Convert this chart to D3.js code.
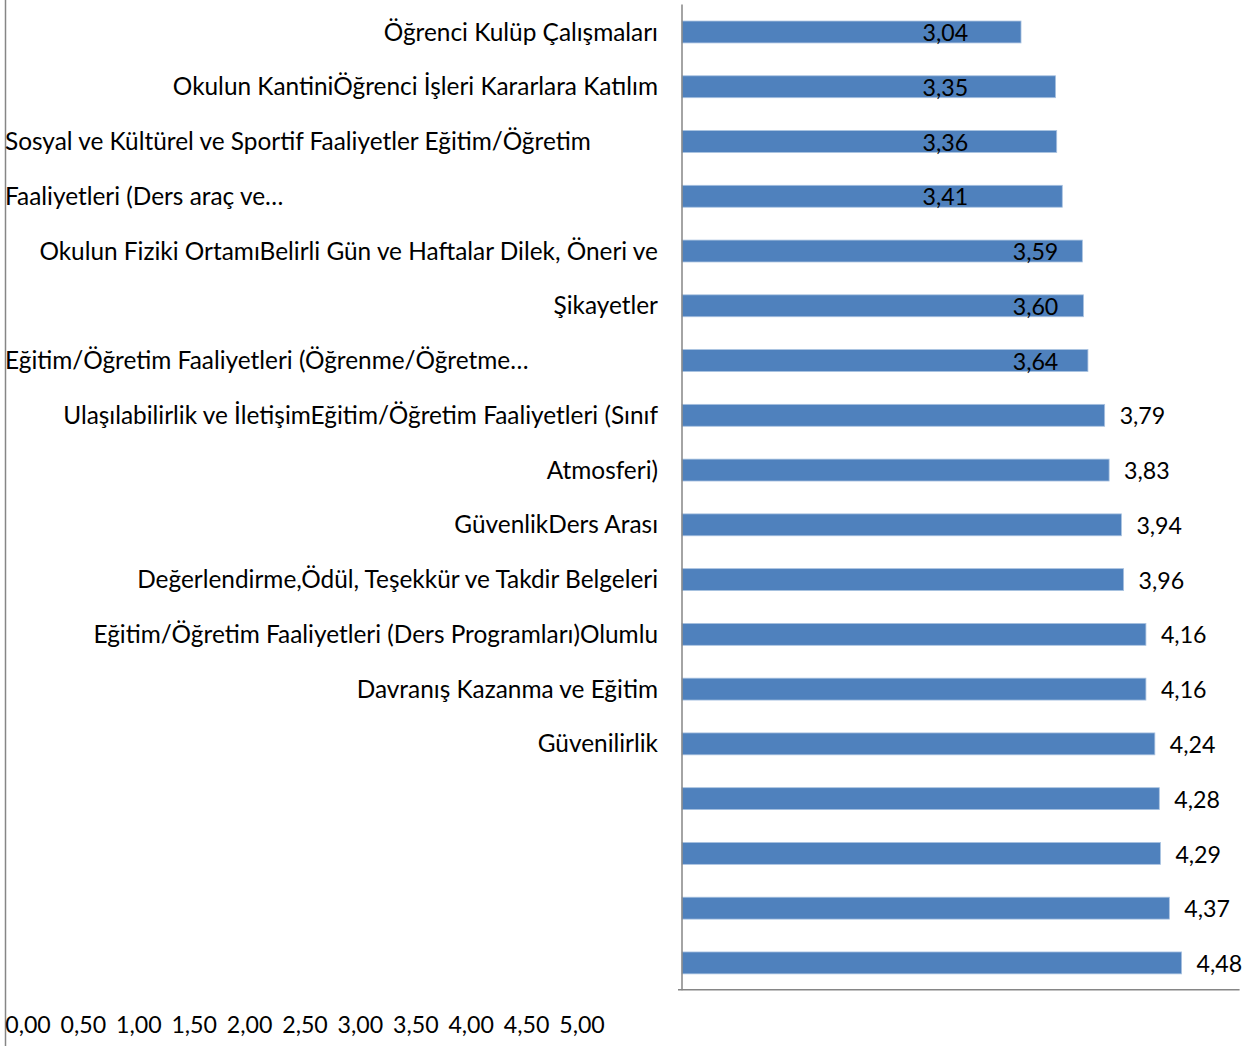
<!DOCTYPE html>
<html>
<head>
<meta charset="utf-8">
<script src="https://cdn.jsdelivr.net/npm/d3@7"></script>
<style>
  html, body { margin: 0; padding: 0; background: #fff; }
  svg text { font-family: Lato, "Open Sans", sans-serif; fill: #000; }
</style>
</head>
<body>
<div id="chart"></div>
<script>
// values, top to bottom
const values = [3.04, 3.35, 3.36, 3.41, 3.59, 3.60, 3.64, 3.79, 3.83, 3.94, 3.96, 4.16, 4.16, 4.24, 4.28, 4.29, 4.37, 4.48];

// category text as it appears (broken/wrapped lines of the original chart)
const categoryLines = [
  'Öğrenci Kulüp Çalışmaları',
  'Okulun KantiniÖğrenci İşleri Kararlara Katılım',
  'Sosyal ve Kültürel ve Sportif Faaliyetler Eğitim/Öğretim',
  'Faaliyetleri (Ders araç ve…',
  'Okulun Fiziki OrtamıBelirli Gün ve Haftalar Dilek, Öneri ve',
  'Şikayetler',
  'Eğitim/Öğretim Faaliyetleri (Öğrenme/Öğretme…',
  'Ulaşılabilirlik ve İletişimEğitim/Öğretim Faaliyetleri (Sınıf',
  'Atmosferi)',
  'GüvenlikDers Arası',
  'Değerlendirme,Ödül, Teşekkür ve Takdir Belgeleri',
  'Eğitim/Öğretim Faaliyetleri (Ders Programları)Olumlu',
  'Davranış Kazanma ve Eğitim',
  'Güvenilirlik'
];

const tickValues = [0, 0.5, 1, 1.5, 2, 2.5, 3, 3.5, 4, 4.5, 5];

const cfg = {
  width: 1253,
  height: 1046,
  plotLeft: 682,
  plotRight: 1239.6,
  plotTop: 4.6,
  plotBottom: 990.3,
  catFontSize: 24.4,
  numFontSize: 23.2,
  barColor: '#4F81BD',
  axisColor: '#868686'
};

const fmt = v => d3.format('.2f')(v).replace('.', ',');

const svg = d3.select('#chart').append('svg')
  .attr('width', cfg.width)
  .attr('height', cfg.height);

const x = d3.scaleLinear().domain([0, 5]).range([cfg.plotLeft, cfg.plotRight]);
const y = d3.scaleBand()
  .domain(d3.range(values.length))
  .range([cfg.plotTop, cfg.plotBottom])
  .paddingInner(0.6)
  .paddingOuter(0.3);

// outer left border line
svg.append('line')
  .attr('x1', 5.5).attr('x2', 5.5)
  .attr('y1', 0).attr('y2', cfg.height)
  .attr('stroke', cfg.axisColor).attr('stroke-width', 1.5);

// bars
svg.selectAll('rect.bar')
  .data(values)
  .join('rect')
  .attr('class', 'bar')
  .attr('x', x(0))
  .attr('y', (d, i) => y(i))
  .attr('width', d => x(d) - x(0))
  .attr('height', y.bandwidth())
  .attr('fill', cfg.barColor)
  .attr('stroke', '#A9C2E0')
  .attr('stroke-width', 0.8);

// axis lines
svg.append('line')
  .attr('x1', cfg.plotLeft).attr('x2', cfg.plotLeft)
  .attr('y1', cfg.plotTop).attr('y2', cfg.plotBottom)
  .attr('stroke', cfg.axisColor).attr('stroke-width', 1.5);
svg.append('line')
  .attr('x1', cfg.plotLeft - 4).attr('x2', cfg.plotRight)
  .attr('y1', cfg.plotBottom - 0.5).attr('y2', cfg.plotBottom - 0.5)
  .attr('stroke', cfg.axisColor).attr('stroke-width', 1.5);

// value labels: the small values sit inside the bars, the rest outside end
function labelX(v) {
  if (v < 3.5) return { x: x(2.362), anchor: 'middle' };
  if (v < 3.7) return { x: x(3.17), anchor: 'middle' };
  return { x: x(v) + 15, anchor: 'start' };
}

svg.selectAll('text.value')
  .data(values)
  .join('text')
  .attr('class', 'value')
  .attr('x', d => labelX(d).x)
  .attr('y', (d, i) => y(i) + y.bandwidth() / 2 + 1)
  .attr('dy', '0.35em')
  .attr('text-anchor', d => labelX(d).anchor)
  .attr('font-size', cfg.numFontSize)
  .text(fmt);

// category labels, one line per bar slot
const leftAligned = new Set([2, 3, 6]);
svg.selectAll('text.cat')
  .data(categoryLines)
  .join('text')
  .attr('class', 'cat')
  .attr('x', (d, i) => leftAligned.has(i) ? 5 : 658)
  .attr('y', (d, i) => y(i) + y.bandwidth() / 2)
  .attr('dy', '0.35em')
  .attr('text-anchor', (d, i) => leftAligned.has(i) ? 'start' : 'end')
  .attr('font-size', cfg.catFontSize)
  .text(d => d);

// squeezed value axis at the bottom left
const tickX = d3.scaleLinear().domain([0, 5]).range([28, 582]);
svg.append('g')
  .attr('transform', 'translate(0,1025)')
  .selectAll('text')
  .data(tickValues)
  .join('text')
  .attr('x', d => tickX(d))
  .attr('dy', '0.35em')
  .attr('text-anchor', 'middle')
  .attr('font-size', cfg.numFontSize)
  .text(fmt);
</script>
</body>
</html>
